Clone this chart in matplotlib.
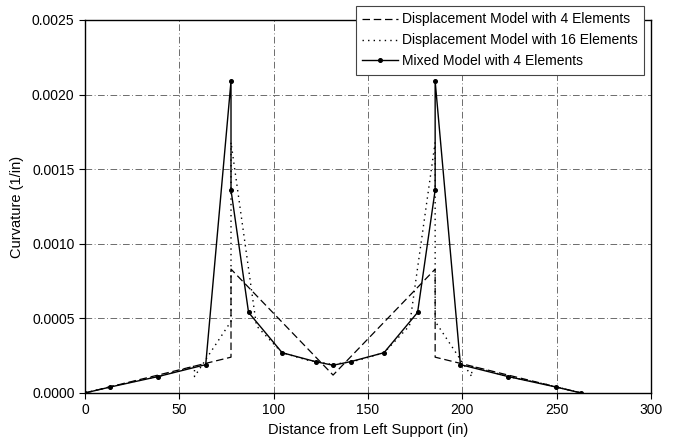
import numpy as np
import matplotlib.pyplot as plt

plt.rcParams['font.family'] = ['Liberation Sans', 'DejaVu Sans']

# Displacement model, 4 elements (linear curvature per element)
disp4_x = [0, 77.4, 77.4, 131.5, 185.6, 185.6, 263]
disp4_y = [0, 0.00024, 0.00083, 0.00012, 0.00083, 0.00024, 0]

# Displacement model, 16 elements
disp16_x = [0, 19.35, 38.7, 38.7, 58.05, 58.05, 77.4, 77.4, 90.9, 90.9, 104.45, 118.0, 131.5,
            145.0, 158.5, 172.0, 172.0, 185.6, 185.6, 205.0, 205.0, 224.3, 224.3, 243.7, 263]
disp16_y = [0, 0.00006, 0.00011, 0.00011, 0.00018, 0.00011, 0.00048, 0.00168, 0.00045, 0.00045,
            0.00027, 0.00022, 0.00019,
            0.00022, 0.00027, 0.00045, 0.00045, 0.00168, 0.00048, 0.00011, 0.00018, 0.00011,
            0.00011, 0.00006, 0]

# Mixed model, 4 elements (Gauss-Lobatto points)
mixed_x = [0, 13.4, 38.7, 64.0, 77.4, 77.4, 86.7, 104.5, 122.2, 131.5,
           140.8, 158.5, 176.3, 185.6, 185.6, 199.0, 224.3, 249.6, 263]
mixed_y = [0, 0.00004, 0.00011, 0.00019, 0.00209, 0.00136, 0.00054, 0.00027, 0.00021, 0.000186,
           0.00021, 0.00027, 0.00054, 0.00136, 0.00209, 0.00019, 0.00011, 0.00004, 0]

fig = plt.figure(figsize=(6.76, 4.44), dpi=100)
ax = fig.add_axes([0.1257, 0.1149, 0.8373, 0.8401])

ax.plot(disp4_x, disp4_y, color='black', linestyle=(0, (6, 3)), linewidth=0.9,
        label='Displacement Model with 4 Elements')
ax.plot(disp16_x, disp16_y, color='black', linestyle=(0, (1, 3)), linewidth=1.0,
        label='Displacement Model with 16 Elements')
ax.plot(mixed_x, mixed_y, color='black', linestyle='-', linewidth=1.0, marker='o',
        markersize=2.6, label='Mixed Model with 4 Elements')

ax.set_xlim(0, 300)
ax.set_ylim(0, 0.0025)
ax.set_xticks(np.arange(0, 301, 50))
ax.set_yticks(np.arange(0, 0.00251, 0.0005))
ax.set_yticklabels(['%.4f' % v for v in np.arange(0, 0.00251, 0.0005)])
ax.tick_params(direction='out', length=4, labelsize=10, width=0.8)
ax.grid(True, color='#555555', linestyle=(0, (8, 3, 1, 3)), linewidth=0.6)

for s in ax.spines.values():
    s.set_linewidth(1.0)

ax.set_xlabel('Distance from Left Support (in)', fontsize=10.5, labelpad=4)
ax.set_ylabel('Curvature (1/in)', fontsize=10.5, labelpad=6)

leg = ax.legend(loc='upper right', bbox_to_anchor=(0.953, 0.986), bbox_transform=fig.transFigure,
                borderaxespad=0, fontsize=10, frameon=True, fancybox=False, handlelength=2.6,
                borderpad=0.45, labelspacing=0.5, handletextpad=0.3, framealpha=1)
leg.get_frame().set_edgecolor('#444444')
leg.get_frame().set_linewidth(0.8)

fig.savefig('out.png', dpi=100)
